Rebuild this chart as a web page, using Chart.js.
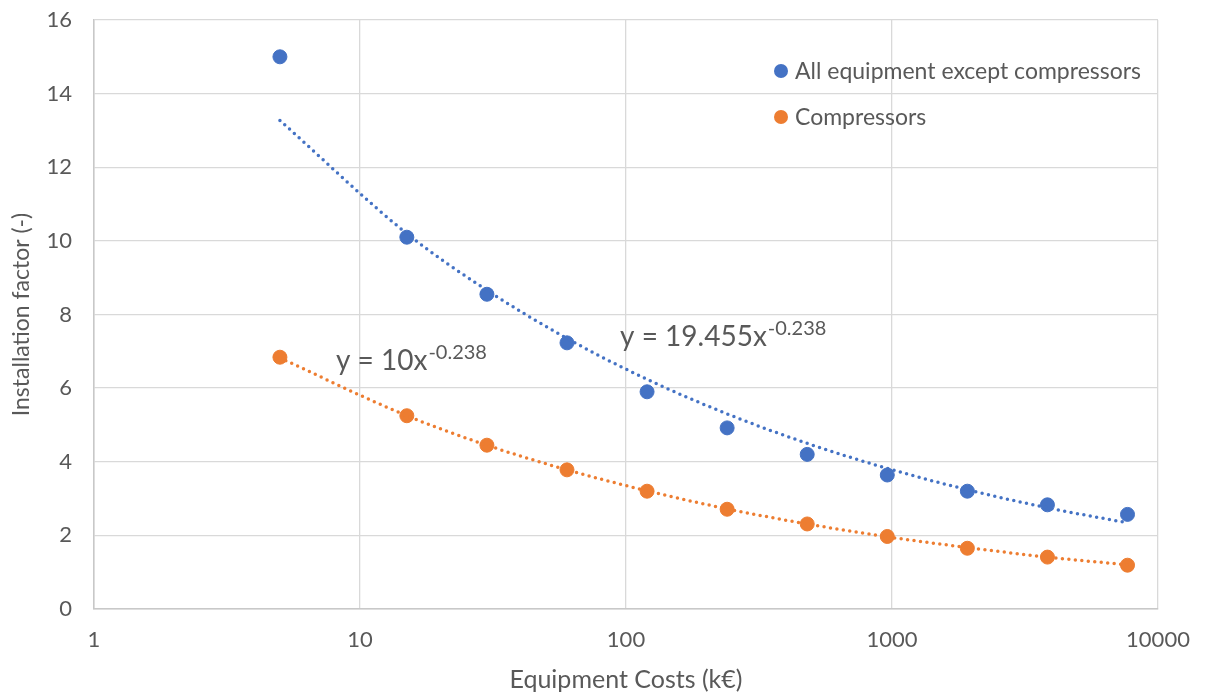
<!DOCTYPE html>
<html>
<head>
<meta charset="utf-8">
<script src="https://cdn.jsdelivr.net/npm/chart.js@4"></script>
<style>
  html, body { margin: 0; padding: 0; background: #fff; }
  #wrap { width: 1205px; height: 695px; }
</style>
</head>
<body>
<div id="wrap"><canvas id="myChart" width="1205" height="695"></canvas></div>
<script>
'use strict';

// equipment cost (k€) for each point
let costs = [5, 15, 30, 60, 120, 240, 480, 960, 1920, 3840, 7680];
let allEquipment = [15.0, 10.1, 8.55, 7.23, 5.9, 4.92, 4.2, 3.64, 3.2, 2.83, 2.57];
let compressors = [6.84, 5.25, 4.45, 3.78, 3.2, 2.71, 2.31, 1.97, 1.65, 1.41, 1.19];
// trendline values at the same costs
let allEquipmentTrend = [13.27, 10.2, 8.66, 7.35, 6.24, 5.3, 4.5, 3.82, 3.24, 2.75, 2.34];
let compressorsTrend = [6.82, 5.25, 4.45, 3.78, 3.21, 2.72, 2.31, 1.96, 1.67, 1.41, 1.2];
let xTicks = [1, 10, 100, 1000, 10000];
let seriesNames = ['All equipment except compressors', 'Compressors'];
let equations = [['y = 19.455x', '-0.238'], ['y = 10x', '-0.238']];

const blue = '#4472c4';
const orange = '#ed7d31';
const textColor = '#595959';
const fontName = 'Lato, "Open Sans", sans-serif';

function toPoints(values) {
  let pts = [];
  for (let i = 0; i < costs.length; i++) {
    pts.push({ x: costs[i], y: values[i] });
  }
  return pts;
}

// legend + equation labels drawn on top of the plot
const labelsPlugin = {
  id: 'labels',
  afterDatasetsDraw(chart) {
    const c = chart.ctx;
    const area = chart.chartArea;
    const xs = chart.scales.x;
    const ys = chart.scales.y;
    c.save();

    // legend
    let colors = [blue, orange];
    let lx = area.right - 377;
    for (let i = 0; i < seriesNames.length; i++) {
      let ly = area.top + 51 + i * 46;
      c.beginPath();
      c.fillStyle = colors[i];
      c.arc(lx, ly, 7, 0, Math.PI * 2);
      c.fill();
      c.fillStyle = textColor;
      c.font = '23px ' + fontName;
      c.textBaseline = 'middle';
      c.textAlign = 'left';
      c.fillText(seriesNames[i], lx + 14, ly + 1);
    }

    // equations (anchored at the baseline, in data units)
    let anchors = [{ x: 95, y: 7.15 }, { x: 8.12, y: 6.49 }];
    for (let i = 0; i < equations.length; i++) {
      let px = xs.getPixelForValue(anchors[i].x);
      let py = ys.getPixelForValue(anchors[i].y);
      c.fillStyle = textColor;
      c.textBaseline = 'alphabetic';
      c.font = '28px ' + fontName;
      c.fillText(equations[i][0], px, py);
      let w = c.measureText(equations[i][0]).width;
      c.font = '20px ' + fontName;
      c.fillText(equations[i][1], px + w + 1, py - 11);
    }
    c.restore();
  }
};

const ctx = document.getElementById('myChart').getContext('2d');

let chartObject = {
  type: 'scatter',
  data: {
    datasets: [
      {
        label: seriesNames[0],
        data: toPoints(allEquipment),
        backgroundColor: blue,
        borderColor: blue,
        pointRadius: 7,
        pointHoverRadius: 7,
        order: 2
      },
      {
        label: seriesNames[1],
        data: toPoints(compressors),
        backgroundColor: orange,
        borderColor: orange,
        pointRadius: 7,
        pointHoverRadius: 7,
        order: 2
      },
      {
        label: 'trend1',
        data: toPoints(allEquipmentTrend),
        showLine: true,
        pointRadius: 0,
        borderColor: blue,
        borderWidth: 3.5,
        borderDash: [0, 6.5],
        borderCapStyle: 'round',
        cubicInterpolationMode: 'monotone',
        order: 1
      },
      {
        label: 'trend2',
        data: toPoints(compressorsTrend),
        showLine: true,
        pointRadius: 0,
        borderColor: orange,
        borderWidth: 3.5,
        borderDash: [0, 6.5],
        borderCapStyle: 'round',
        cubicInterpolationMode: 'monotone',
        order: 1
      }
    ]
  },
  options: {
    responsive: false,
    animation: false,
    layout: { autoPadding: false, padding: { top: 20, right: 47, left: 0, bottom: 0 } },
    plugins: {
      legend: { display: false },
      tooltip: { enabled: false }
    },
    scales: {
      x: {
        type: 'logarithmic',
        min: 1,
        max: 10000,
        afterBuildTicks(scale) {
          scale.ticks = xTicks.map(v => ({ value: v }));
        },
        afterFit(scale) {
          scale.height = 86;
          scale.paddingLeft = 0;
          scale.paddingRight = 0;
        },
        ticks: {
          color: textColor,
          font: { family: fontName, size: 22 },
          padding: 18,
          maxRotation: 0,
          callback: v => String(v)
        },
        grid: { color: '#d9d9d9', lineWidth: 1.3, drawTicks: false },
        border: { color: '#c8c8c8', width: 1.5 },
        title: {
          display: true,
          text: 'Equipment Costs (k€)',
          color: textColor,
          font: { family: fontName, size: 25 },
          padding: { top: 0, bottom: 0 }
        }
      },
      y: {
        min: 0,
        max: 16,
        afterFit(scale) {
          scale.width = 94;
          scale.paddingTop = 0;
          scale.paddingBottom = 0;
        },
        ticks: {
          stepSize: 2,
          color: textColor,
          font: { family: fontName, size: 22 },
          padding: 22
        },
        grid: { color: '#d9d9d9', lineWidth: 1.3, drawTicks: false },
        border: { color: '#c8c8c8', width: 1.5 },
        title: {
          display: true,
          text: 'Installation factor (-)',
          color: textColor,
          font: { family: fontName, size: 23 },
          padding: { top: 8, bottom: 0 }
        }
      }
    }
  },
  plugins: [labelsPlugin]
};

new Chart(ctx, chartObject);
</script>
</body>
</html>
